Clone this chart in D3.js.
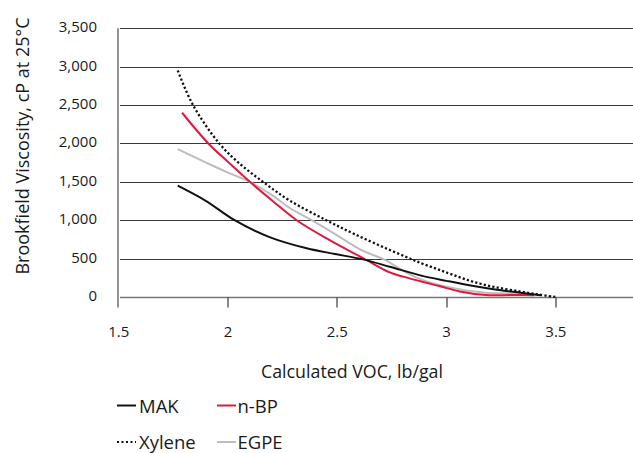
<!DOCTYPE html>
<html>
<head>
<meta charset="utf-8">
<script src="https://cdn.jsdelivr.net/npm/d3@7"></script>
<style>
  html, body { margin: 0; padding: 0; background: #fff; }
  svg { display: block; }
  text { font-family: "Open Sans", "Noto Sans", sans-serif; fill: #1a1a1a; }
</style>
</head>
<body>
<svg id="chart" width="633" height="453"></svg>
<script>
// ---- Data ----
const makX = [1.77, 1.9, 2.03, 2.19, 2.36, 2.49, 2.617, 2.74, 2.88, 3.0, 3.11, 3.23, 3.34, 3.43];
const makY = [1450, 1250, 1000, 780, 634, 560, 490, 394, 282, 210, 149, 95, 56, 24];

const nbpX = [1.79, 1.91, 2.0, 2.1, 2.207, 2.314, 2.467, 2.622, 2.74, 2.8, 2.88, 2.97, 3.06, 3.18, 3.3, 3.4];
const nbpY = [2400, 2000, 1760, 1500, 1244, 1000, 737, 500, 320, 265, 205, 139, 72, 25, 26, 24];

const xylX = [1.77, 1.84, 1.96, 2.05, 2.16, 2.28, 2.45, 2.58, 2.74, 2.88, 3.0, 3.11, 3.22, 3.34, 3.42, 3.5];
const xylY = [2950, 2500, 2000, 1745, 1500, 1260, 1000, 818, 613, 445, 319, 208, 130, 70, 32, 0];

const egpX = [1.77, 1.9, 2.0, 2.1, 2.2, 2.283, 2.383, 2.512, 2.61, 2.72, 2.8, 2.88, 2.96, 3.03, 3.1, 3.18, 3.27, 3.36];
const egpY = [1925, 1750, 1620, 1500, 1330, 1159, 1000, 780, 612, 480, 345, 232, 160, 117, 80, 56, 45, 35];

const xTicks = [1.5, 2, 2.5, 3, 3.5, 4];
const xTickLabels = ["1.5", "2", "2.5", "3", "3.5", "4"];
const yTicks = [0, 500, 1000, 1500, 2000, 2500, 3000, 3500];

const seriesNames = ["MAK", "n-BP", "Xylene", "EGPE"];
const xTitle = "Calculated VOC, lb/gal";
const yTitle = "Brookfield Viscosity, cP at 25°C";

// ---- Drawing ----
const W = 633;
const svg = d3.select("#chart");
const x = d3.scaleLinear().domain([1.5, 4]).range([118.7, 665.2]);
const y = d3.scaleLinear().domain([0, 3500]).range([297, 28.3]);

const series = [
  { name: seriesNames[0], xs: makX, ys: makY, color: "#111111", dash: null },
  { name: seriesNames[1], xs: nbpX, ys: nbpY, color: "#e3173e", dash: null },
  { name: seriesNames[2], xs: xylX, ys: xylY, color: "#111111", dash: "2.2,2.2" },
  { name: seriesNames[3], xs: egpX, ys: egpY, color: "#bdbdbd", dash: null }
];

// gridlines
svg.append("g")
  .selectAll("line")
  .data(yTicks)
  .join("line")
  .attr("x1", 120).attr("x2", W)
  .attr("y1", d => Math.round(y(d)) + 0.5)
  .attr("y2", d => Math.round(y(d)) + 0.5)
  .attr("stroke", d => d === 0 ? "#777" : "#3a3a3a")
  .attr("stroke-width", d => d === 0 ? 1.6 : 1);

// y tick labels
svg.append("g")
  .selectAll("text")
  .data(yTicks)
  .join("text")
  .attr("x", 97)
  .attr("y", d => y(d) + 4)
  .attr("text-anchor", "end")
  .attr("font-size", 15)
  .text(d => d3.format(",")(d));

// y axis line
svg.append("line")
  .attr("x1", 118).attr("x2", 118)
  .attr("y1", y(3500)).attr("y2", 307.5)
  .attr("stroke", "#777").attr("stroke-width", 1.6);

// x axis ticks (only those inside the visible area)
const visibleX = xTicks.map((d, i) => ({ v: d, label: xTickLabels[i] }))
  .filter(d => x(d.v) < W - 10);

svg.append("g")
  .selectAll("line")
  .data(visibleX.filter(d => d.v > 1.5))
  .join("line")
  .attr("x1", d => Math.round(x(d.v))).attr("x2", d => Math.round(x(d.v)))
  .attr("y1", 297).attr("y2", 307.5)
  .attr("stroke", "#555").attr("stroke-width", 1.4);

// x tick labels
svg.append("g")
  .selectAll("text")
  .data(visibleX)
  .join("text")
  .attr("x", d => x(d.v))
  .attr("y", 336.5)
  .attr("text-anchor", "middle")
  .attr("font-size", 15)
  .text(d => d.label);

// axis titles
svg.append("text")
  .attr("x", 352).attr("y", 377.5)
  .attr("text-anchor", "middle")
  .attr("font-size", 17.8)
  .text(xTitle);

svg.append("text")
  .attr("transform", "translate(29,146) rotate(-90)")
  .attr("text-anchor", "middle")
  .attr("font-size", 18)
  .text(yTitle);

// lines
const line = d3.line()
  .x(d => x(d[0]))
  .y(d => y(d[1]))
  .curve(d3.curveCatmullRom.alpha(0.5));

const plot = svg.append("g");
[3, 1, 0, 2].forEach(i => {
  const s = series[i];
  const pts = s.xs.map((v, j) => [v, s.ys[j]]);
  plot.append("path")
    .datum(pts)
    .attr("d", line)
    .attr("fill", "none")
    .attr("stroke", s.color)
    .attr("stroke-width", s.dash ? 2.3 : 2)
    .attr("stroke-dasharray", s.dash)
    .attr("stroke-linejoin", "round");
});

// legend
const legendPos = [
  { lx: 117, ly: 405.5, tx: 139, ty: 412.5 },
  { lx: 217, ly: 405.5, tx: 237.5, ty: 412.5 },
  { lx: 117, ly: 442, tx: 139, ty: 448.5 },
  { lx: 217, ly: 442, tx: 237.5, ty: 448.5 }
];
const legend = svg.append("g");
series.forEach((s, i) => {
  const p = legendPos[i];
  legend.append("line")
    .attr("x1", p.lx).attr("x2", p.lx + 19)
    .attr("y1", p.ly).attr("y2", p.ly)
    .attr("stroke", s.color)
    .attr("stroke-width", 2)
    .attr("stroke-dasharray", s.dash ? "2,2.5" : null);
  legend.append("text")
    .attr("x", p.tx).attr("y", p.ty)
    .attr("font-size", 18.5)
    .text(s.name);
});
</script>
</body>
</html>
